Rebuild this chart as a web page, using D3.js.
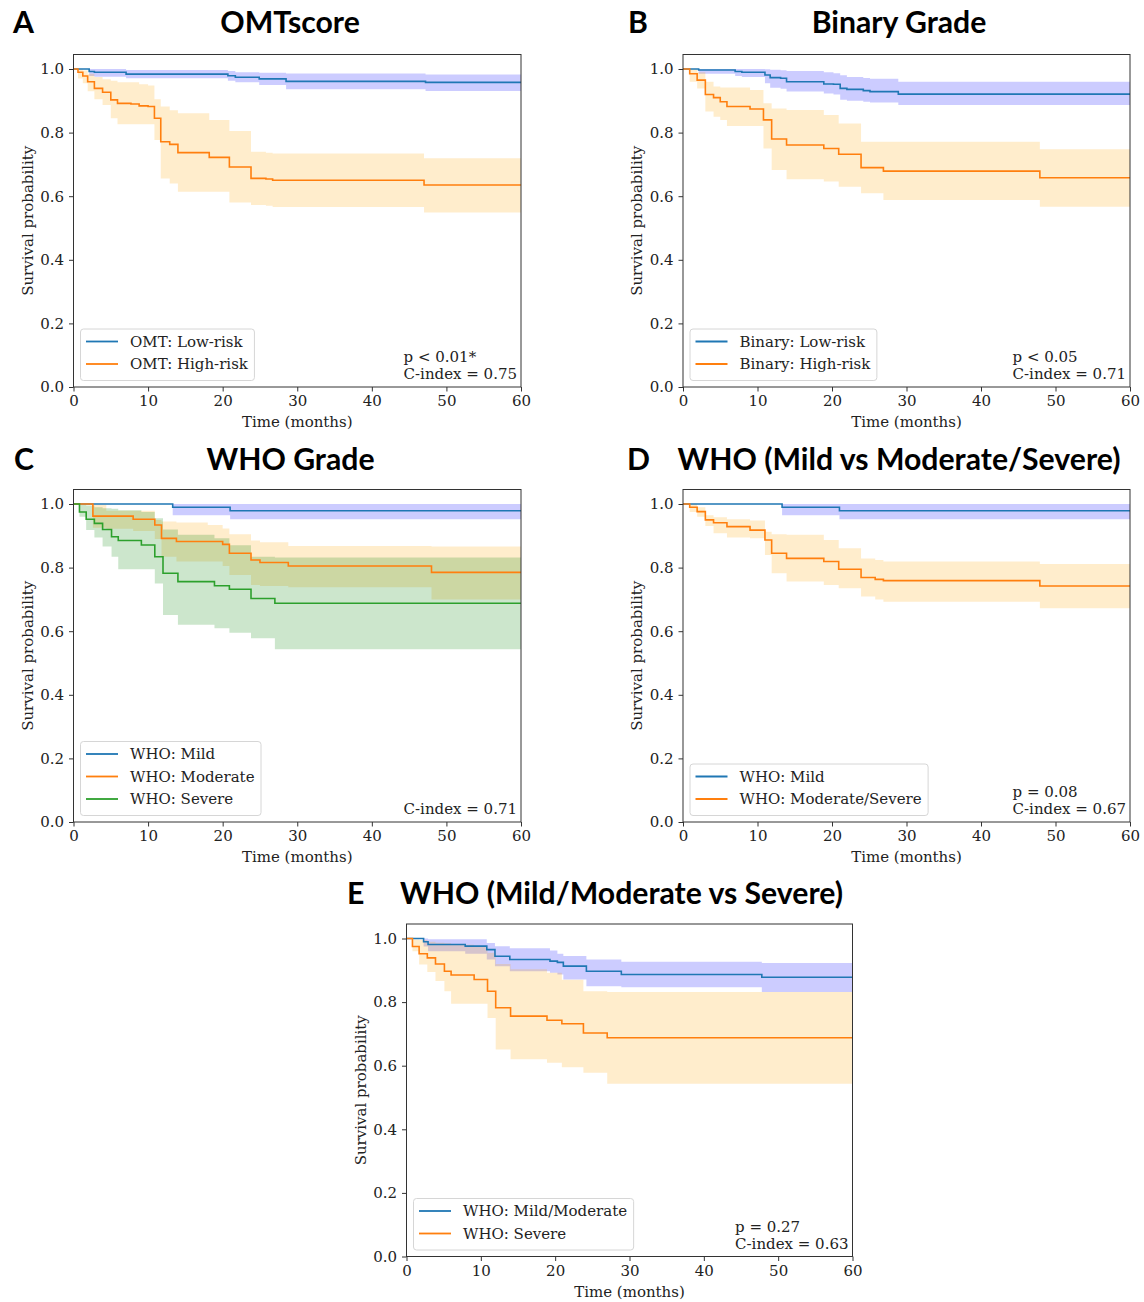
<!DOCTYPE html>
<html><head><meta charset="utf-8">
<script src="https://cdn.jsdelivr.net/npm/d3@7"></script>
<style>body{margin:0;background:#fff}</style>
</head><body>
<svg id="fig" width="1144" height="1302"></svg>
<script>
// ---------- DATA (rows: [time (months), survival, CI lower, CI upper]) ----------
const xTicks = [0, 10, 20, 30, 40, 50, 60];
const yTicks = [0.0, 0.2, 0.4, 0.6, 0.8, 1.0];

const panelLetters = ["A", "B", "C", "D", "E"];
const panelTitles = ["OMTscore", "Binary Grade", "WHO Grade", "WHO (Mild vs Moderate/Severe)", "WHO (Mild/Moderate vs Severe)"];

const omtLow = [[0,1,1,1],[2.1,0.992,0.978,1],[2.8,0.99,0.976,1],[7.05,0.984,0.971,0.997],[20.7,0.979,0.963,0.994],[21.7,0.974,0.958,0.99],[24.9,0.969,0.95,0.988],[28.5,0.961,0.936,0.986],[47.2,0.958,0.931,0.983]];
const omtHigh = [[0,1,1,1],[0.6,0.99,0.97,1],[1.25,0.978,0.955,0.995],[1.9,0.96,0.93,0.985],[2.8,0.939,0.905,0.975],[3.9,0.927,0.887,0.968],[5.0,0.903,0.845,0.963],[5.9,0.892,0.826,0.958],[7.7,0.89,0.826,0.958],[8.8,0.884,0.826,0.952],[10.0,0.882,0.826,0.948],[10.85,0.845,0.777,0.905],[11.7,0.771,0.656,0.882],[12.9,0.763,0.64,0.87],[14.0,0.737,0.614,0.861],[18.2,0.722,0.614,0.84],[20.9,0.692,0.58,0.805],[23.8,0.656,0.572,0.74],[25.8,0.654,0.57,0.737],[26.7,0.65,0.566,0.734],[47.0,0.635,0.549,0.719]];

const binLow = [[0,1,1,1],[2.1,0.997,0.985,1],[7.0,0.992,0.978,1],[7.9,0.99,0.975,1],[11.0,0.981,0.955,0.999],[11.7,0.973,0.941,0.998],[13.1,0.971,0.938,0.996],[13.9,0.96,0.929,0.994],[18.9,0.953,0.923,0.99],[20.2,0.952,0.92,0.987],[21.1,0.939,0.903,0.98],[22.0,0.936,0.9,0.975],[24.2,0.932,0.897,0.972],[25.1,0.929,0.895,0.969],[28.9,0.921,0.887,0.96]];
const binHigh = [[0,1,1,1],[0.9,0.985,0.96,1],[1.9,0.965,0.939,0.99],[3.0,0.92,0.866,0.96],[4.1,0.91,0.85,0.945],[5.0,0.897,0.84,0.942],[5.9,0.882,0.821,0.942],[9.0,0.874,0.821,0.934],[10.8,0.84,0.75,0.892],[11.9,0.78,0.682,0.876],[13.9,0.761,0.653,0.871],[18.9,0.75,0.646,0.855],[20.9,0.732,0.63,0.829],[23.9,0.69,0.609,0.771],[26.9,0.679,0.588,0.771],[47.9,0.658,0.567,0.748]];

const whoMild = [[0,1,1,1],[13.3,0.99,0.965,1],[21.0,0.979,0.952,1]];
const whoModerate = [[0,1,1,1],[2.6,0.962,0.925,0.998],[4.4,0.962,0.922,0.979],[8.0,0.952,0.915,0.979],[10.9,0.934,0.89,0.95],[11.8,0.892,0.834,0.945],[13.8,0.882,0.819,0.942],[18.0,0.882,0.819,0.934],[20.0,0.873,0.805,0.923],[20.9,0.845,0.777,0.905],[23.8,0.824,0.745,0.885],[25.0,0.816,0.742,0.88],[28.8,0.805,0.738,0.868],[48.0,0.785,0.70,0.866]];
const whoSevere = [[0,1,1,1],[0.8,0.975,0.96,0.997],[1.7,0.952,0.918,0.995],[2.8,0.939,0.895,0.99],[3.9,0.92,0.866,0.987],[5.1,0.897,0.834,0.985],[6.0,0.885,0.795,0.98],[9.1,0.871,0.795,0.975],[10.9,0.834,0.75,0.955],[12.0,0.782,0.651,0.92],[14.0,0.756,0.62,0.903],[18.9,0.743,0.609,0.892],[20.9,0.732,0.595,0.87],[23.8,0.703,0.578,0.834],[27.0,0.688,0.543,0.832]];
const whoModSev = [[0,1,1,1],[0.9,0.99,0.975,1],[1.9,0.976,0.96,0.99],[3.0,0.95,0.931,0.965],[4.1,0.941,0.908,0.958],[5.9,0.929,0.895,0.952],[9.0,0.918,0.892,0.948],[11.0,0.887,0.84,0.913],[11.9,0.845,0.782,0.905],[13.9,0.829,0.756,0.903],[18.9,0.819,0.745,0.887],[20.9,0.795,0.735,0.861],[23.9,0.769,0.709,0.829],[25.8,0.763,0.7,0.824],[26.9,0.759,0.693,0.819],[47.9,0.742,0.672,0.811]];
const whoMildMod = [[0,1,1,1],[2.3,0.99,0.975,1],[2.9,0.981,0.96,0.998],[7.9,0.976,0.952,0.998],[10.8,0.965,0.934,0.986],[11.9,0.944,0.913,0.976],[13.9,0.934,0.897,0.969],[19.3,0.929,0.892,0.962],[20.3,0.925,0.887,0.952],[21.1,0.913,0.871,0.945],[24.2,0.897,0.85,0.934],[28.9,0.887,0.847,0.927],[47.8,0.878,0.832,0.923]];

const legendA = ["OMT: Low-risk", "OMT: High-risk"];
const legendB = ["Binary: Low-risk", "Binary: High-risk"];
const legendC = ["WHO: Mild", "WHO: Moderate", "WHO: Severe"];
const legendD = ["WHO: Mild", "WHO: Moderate/Severe"];
const legendE = ["WHO: Mild/Moderate", "WHO: Severe"];

const notesA = ["p < 0.01*", "C-index = 0.75"];
const notesB = ["p < 0.05", "C-index = 0.71"];
const notesC = ["C-index = 0.71"];
const notesD = ["p = 0.08", "C-index = 0.67"];
const notesE = ["p = 0.27", "C-index = 0.63"];

// ---------- STYLE ----------
const LINE = {blue: "#1f77b4", orange: "#ff7f0e", green: "#2ca02c"};
const FILL = {blue: "blue", orange: "orange", green: "green"};
const SERIF = "'DejaVu Serif', serif";
const FS = 15;
const TITLEFONT = "Lato, 'Open Sans', sans-serif";

const panels = [
  {letter: panelLetters[0], title: panelTitles[0], left: 73.5, right: 521, zero: 387, one: 69, titleCx: 290, letterX: 13, titleBase: 33,
   series: [{d: omtLow, c: "blue"}, {d: omtHigh, c: "orange"}], legend: legendA, notes: notesA},
  {letter: panelLetters[1], title: panelTitles[1], left: 683, right: 1130, zero: 387, one: 69, titleCx: 899, letterX: 628, titleBase: 33,
   series: [{d: binLow, c: "blue"}, {d: binHigh, c: "orange"}], legend: legendB, notes: notesB},
  {letter: panelLetters[2], title: panelTitles[2], left: 73.5, right: 521, zero: 822, one: 504, titleCx: 290.5, letterX: 14, titleBase: 470,
   series: [{d: whoMild, c: "blue"}, {d: whoModerate, c: "orange"}, {d: whoSevere, c: "green"}], legend: legendC, notes: notesC},
  {letter: panelLetters[3], title: panelTitles[3], left: 683, right: 1130, zero: 822, one: 504, titleCx: 899, letterX: 627, titleBase: 470,
   series: [{d: whoMild, c: "blue"}, {d: whoModSev, c: "orange"}], legend: legendD, notes: notesD},
  {letter: panelLetters[4], title: panelTitles[4], left: 406.5, right: 852.5, zero: 1256.5, one: 938.5, titleCx: 621.5, letterX: 347, titleBase: 904,
   series: [{d: whoMildMod, c: "blue"}, {d: whoSevere, c: "orange"}], legend: legendE, notes: notesE}
];

const svg = d3.select("#fig");
svg.append("rect").attr("width", 1144).attr("height", 1302).attr("fill", "#fff");

const probe = svg.append("text").attr("font-family", TITLEFONT).attr("font-weight", "bold").attr("font-size", 30).text(panelTitles[3]);
const titleSize = 30 * 443 / probe.node().getComputedTextLength();
probe.remove();

function extend(rows) {
  const last = rows[rows.length - 1];
  return rows.concat([[60, last[1], last[2], last[3]]]);
}

panels.forEach((p, i) => {
  const x = d3.scaleLinear().domain([0, 60]).range([p.left, p.right]);
  const y = d3.scaleLinear().domain([0, 1]).range([p.zero, p.one]);
  const top = p.one - 14.5;
  const g = svg.append("g");

  const clipId = "clip" + i;
  g.append("clipPath").attr("id", clipId).append("rect")
    .attr("x", p.left).attr("y", top).attr("width", p.right - p.left).attr("height", p.zero - top);
  const plot = g.append("g").attr("clip-path", `url(#${clipId})`);

  const area = d3.area().curve(d3.curveStepAfter).x(d => x(d[0])).y0(d => y(d[2])).y1(d => y(d[3]));
  const line = d3.line().curve(d3.curveStepAfter).x(d => x(d[0])).y(d => y(d[1]));

  p.series.forEach(s => {
    plot.append("path").attr("d", area(extend(s.d))).attr("fill", FILL[s.c]).attr("fill-opacity", 0.2).attr("stroke", "none");
  });
  p.series.forEach(s => {
    plot.append("path").attr("d", line(extend(s.d))).attr("fill", "none").attr("stroke", LINE[s.c]).attr("stroke-width", 1.6);
  });

  const ax = g.append("g").attr("transform", `translate(0,${p.zero})`)
    .call(d3.axisBottom(x).tickValues(xTicks).tickSize(4.5).tickPadding(4).tickSizeOuter(0).tickFormat(d3.format("d")));
  const ay = g.append("g").attr("transform", `translate(${p.left},0)`)
    .call(d3.axisLeft(y).tickValues(yTicks).tickSize(4.5).tickPadding(5).tickSizeOuter(0).tickFormat(d3.format(".1f")));
  [ax, ay].forEach(a => {
    a.select(".domain").remove();
    a.attr("font-family", SERIF).attr("font-size", FS);
    a.selectAll("line").attr("stroke", "#333");
    a.selectAll("text").attr("fill", "#222");
  });

  g.append("rect").attr("x", p.left).attr("y", top).attr("width", p.right - p.left).attr("height", p.zero - top)
    .attr("fill", "none").attr("stroke", "#333").attr("stroke-width", 1);

  g.append("text").attr("x", (p.left + p.right) / 2).attr("y", p.zero + 40).attr("text-anchor", "middle")
    .attr("font-family", SERIF).attr("font-size", FS).attr("fill", "#222").text("Time (months)");
  g.append("text").attr("transform", `translate(${p.left - 41},${(top + p.zero) / 2}) rotate(-90)`).attr("text-anchor", "middle")
    .attr("font-family", SERIF).attr("font-size", FS).attr("fill", "#222").text("Survival probability");

  // legend
  const n = p.legend.length;
  const rowGap = 22.5;
  const boxBottom = p.zero - 6.5;
  const lastRow = boxBottom - 16.5;
  const firstRow = lastRow - (n - 1) * rowGap;
  const boxTop = firstRow - 12.5;
  const boxLeft = p.left + 7;
  const lg = g.append("g");
  const box = lg.append("rect").attr("x", boxLeft).attr("y", boxTop).attr("height", boxBottom - boxTop)
    .attr("rx", 3).attr("fill", "#fff").attr("fill-opacity", 0.8).attr("stroke", "#d6d6d6").attr("stroke-width", 1);
  let maxW = 0;
  p.legend.forEach((lab, k) => {
    const yy = firstRow + k * rowGap;
    lg.append("line").attr("x1", boxLeft + 5.5).attr("x2", boxLeft + 37.5).attr("y1", yy).attr("y2", yy)
      .attr("stroke", LINE[p.series[k].c]).attr("stroke-width", 1.8);
    const t = lg.append("text").attr("x", boxLeft + 49.5).attr("y", yy).attr("dy", "0.35em")
      .attr("font-family", SERIF).attr("font-size", FS).attr("fill", "#222").text(lab);
    maxW = Math.max(maxW, t.node().getComputedTextLength());
  });
  box.attr("width", 49.5 + maxW + 6.5);

  const ng = g.append("g").attr("font-family", SERIF).attr("font-size", FS).attr("fill", "#222");
  const nts = p.notes.map((s, k) => ng.append("text").attr("y", p.zero - 8 - (p.notes.length - 1 - k) * 17).text(s));
  const wLast = nts[nts.length - 1].node().getComputedTextLength();
  nts.forEach(t => t.attr("x", p.right - 4 - wLast));

  svg.append("text").attr("x", p.titleCx).attr("y", p.titleBase).attr("text-anchor", "middle")
    .attr("font-family", TITLEFONT).attr("font-weight", "bold").attr("font-size", titleSize).attr("fill", "#000").text(p.title);
  svg.append("text").attr("x", p.letterX).attr("y", p.titleBase)
    .attr("font-family", TITLEFONT).attr("font-weight", "bold").attr("font-size", titleSize).attr("fill", "#000").text(p.letter);
});
</script>
</body></html>
